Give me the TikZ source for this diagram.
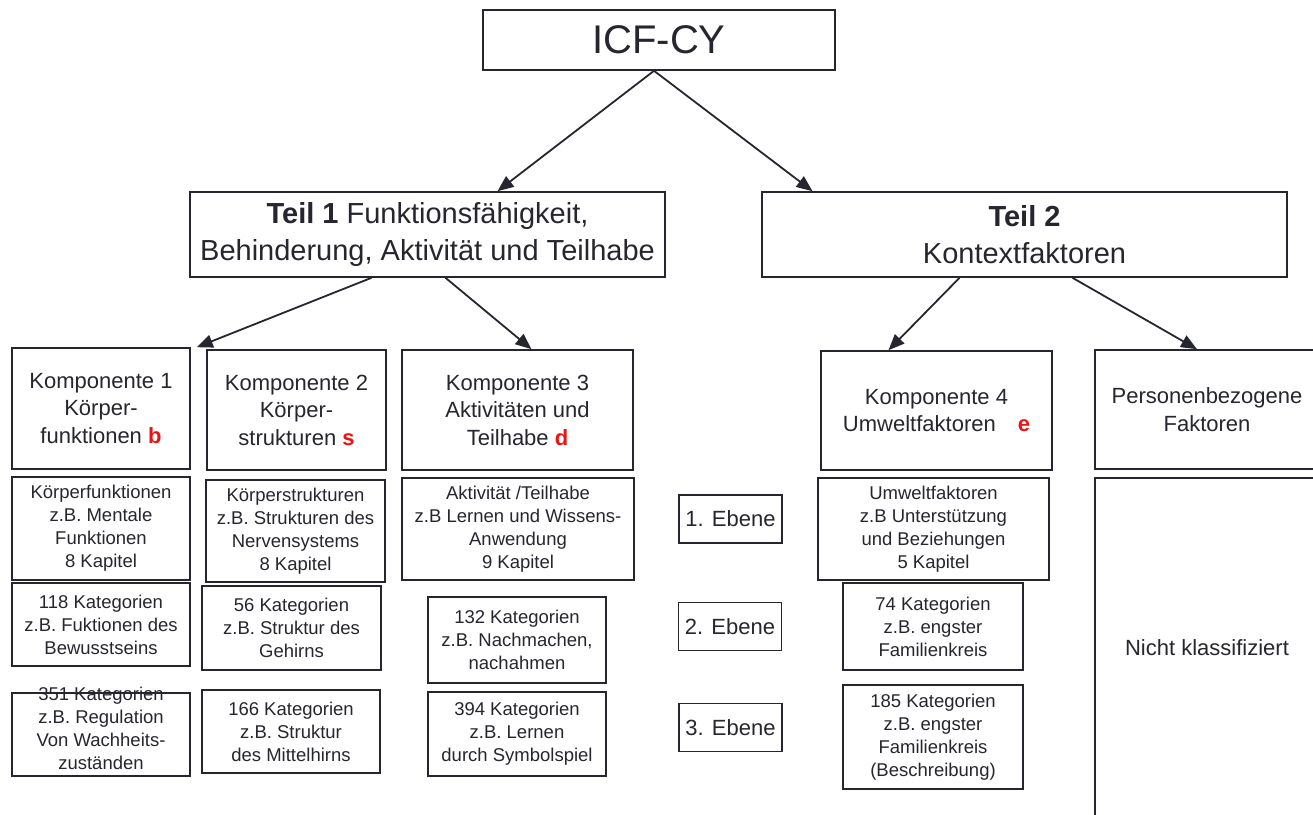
\documentclass[tikz,border=0pt]{standalone}
\usepackage{fontspec}
\setmainfont{Liberation Sans}
\usetikzlibrary{arrows.meta,calc}
\definecolor{ink}{RGB}{38,38,46}
\definecolor{tagred}{RGB}{235,20,20}
\newcommand{\tag}[1]{\textcolor{tagred}{\textbf{#1}}}

\begin{document}
\begin{tikzpicture}[x=1pt,y=-1pt,
	box/.style={draw=ink,line width=1.6pt,text=ink,inner sep=0pt,align=center},
	tbox/.style={box,font=\fontsize{29}{37}\selectfont,minimum height=85},
	kbox/.style={box,font=\fontsize{22}{27.5}\selectfont},
	sbox/.style={box,font=\fontsize{18.5}{23}\selectfont},
	ebox/.style={box,font=\fontsize{22}{26}\selectfont,minimum width=103,minimum height=48},
	arr/.style={draw=ink,line width=1.8pt,-{Triangle[length=16pt,width=13pt]}}]

\clip (0,0) rectangle (1313,814);
\fill[white] (0,0) rectangle (1313,814);

\node[box,font=\fontsize{40}{44}\selectfont,minimum width=352,minimum height=60] (icf) at (659,40) {ICF-CY};

\node[tbox,minimum width=475] (teil1) at (427.5,234.5) {\textbf{Teil 1} Funktionsfähigkeit,\\Behinderung, Aktivität und Teilhabe};
\node[tbox,minimum width=525] (teil2) at (1024.5,234.5) {\textbf{Teil 2}\\Kontextfaktoren};

\node[kbox,minimum width=178,minimum height=121] (kompA) at (101,408.5) {Komponente 1\\Körper-\\funktionen \tag{b}};
\node[kbox,minimum width=179,minimum height=120] (kompB) at (296.5,410) {Komponente 2\\Körper-\\strukturen \tag{s}};
\node[kbox,minimum width=231,minimum height=120] (kompC) at (517.5,410) {Komponente 3\\Aktivitäten und\\Teilhabe \tag{d}};
\node[kbox,minimum width=231,minimum height=119] (kompD) at (936.5,410.5) {Komponente 4\\Umweltfaktoren\quad\tag{e}};
\node[kbox,minimum width=224,minimum height=119] (pers) at (1207,409.5) {Personenbezogene\\Faktoren};

\node[sbox,minimum width=178,minimum height=103] (kompA1) at (101,528.5) {Körperfunktionen\\z.B. Mentale\\Funktionen\\8 Kapitel};
\node[sbox,minimum width=179,minimum height=102] (kompB1) at (295.5,531) {Körperstrukturen\\z.B. Strukturen des\\Nervensystems\\8 Kapitel};
\node[sbox,minimum width=232,minimum height=102] (kompC1) at (518,529) {Aktivität /Teilhabe\\z.B Lernen und Wissens-\\Anwendung\\9 Kapitel};
\node[sbox,minimum width=231,minimum height=102] (kompD1) at (933.5,529) {Umweltfaktoren\\z.B Unterstützung\\und Beziehungen\\5 Kapitel};
\node[kbox,minimum width=224,minimum height=340] (nicht) at (1207,648) {Nicht klassifiziert};

\node[sbox,minimum width=178,minimum height=83] (kompA2) at (101,624.5) {118 Kategorien\\z.B. Fuktionen des\\Bewusstseins};
\node[sbox,minimum width=179,minimum height=84] (kompB2) at (291.5,628) {56 Kategorien\\z.B. Struktur des\\Gehirns};
\node[sbox,minimum width=178,minimum height=86] (kompC2) at (517,640) {132 Kategorien\\z.B. Nachmachen,\\nachahmen};
\node[sbox,minimum width=180,minimum height=87] (kompD2) at (933,626.5) {74 Kategorien\\z.B. engster\\Familienkreis};

\node[sbox,minimum width=178,minimum height=83] (kompA3) at (101,734.5) {\raisebox{0pt}[0pt][0pt]{\begin{tabular}{@{}c@{}}351 Kategorien\\z.B. Regulation\\Von Wachheits-\\zuständen\end{tabular}}};
\node[sbox,minimum width=178,minimum height=83] (kompB3) at (291,731.5) {166 Kategorien\\z.B. Struktur\\des Mittelhirns};
\node[sbox,minimum width=178,minimum height=84] (kompC3) at (517,734) {394 Kategorien\\z.B. Lernen\\durch Symbolspiel};
\node[sbox,minimum width=180,minimum height=104] (kompD3) at (933,737) {185 Kategorien\\z.B. engster\\Familienkreis\\(Beschreibung)};

\node[ebox] (ebene1) at (730.5,519) {1. Ebene};
\node[ebox] (ebene2) at (730,626.5) {2. Ebene};
\node[ebox] (ebene3) at (730.5,727.5) {3. Ebene};

\draw[arr] ($(icf.south)+(-5,0)$) -- ($(teil1.north)+(70,0)$);
\draw[arr] ($(icf.south)+(-5,0)$) -- ($(teil2.north)+(-212,0)$);
\draw[arr] ($(teil1.south)+(-56,0)$) -- ($(kompA.north east)+(6,0)$);
\draw[arr] ($(teil1.south)+(18,0)$) -- ($(kompC.north)+(14,0)$);
\draw[arr] ($(teil2.south)+(-65,0)$) -- ($(kompD.north)+(-48,0)$);
\draw[arr] ($(teil2.south)+(48,0)$) -- ($(pers.north)+(-10,0)$);

\end{tikzpicture}
\end{document}
